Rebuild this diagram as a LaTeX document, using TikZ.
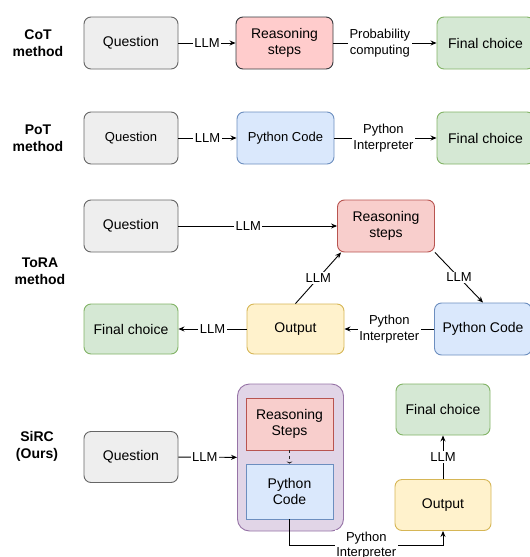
\documentclass[tikz,border=0pt]{standalone}
\usepackage{fontspec}
\setmainfont{Liberation Sans}
\usetikzlibrary{arrows.meta}
\definecolor{qfill}{HTML}{EEEEEE}
\definecolor{qline}{HTML}{666666}
\definecolor{rfill}{HTML}{F8CECC}
\definecolor{rline}{HTML}{B85450}
\definecolor{pinkfill}{HTML}{FFCCCC}
\definecolor{pinkline}{HTML}{36393D}
\definecolor{bfill}{HTML}{DAE8FC}
\definecolor{bline}{HTML}{6C8EBF}
\definecolor{gfill}{HTML}{D5E8D4}
\definecolor{gline}{HTML}{82B366}
\definecolor{yfill}{HTML}{FFF2CC}
\definecolor{yline}{HTML}{D6B656}
\definecolor{pfill}{HTML}{E1D5E7}
\definecolor{pline}{HTML}{9673A6}

\begin{document}
\begin{tikzpicture}[x=1pt,y=-1pt,line width=0.9pt,
    box/.style={draw,rounded corners=7pt,inner sep=0pt,align=center,
      minimum width=94,minimum height=52,font=\fontsize{14}{16.5}\selectfont},
    qbox/.style={box,fill=qfill,draw=qline},
    qsmall/.style={qbox,font=\fontsize{13}{15}\selectfont},
    rbox/.style={box,fill=rfill,draw=rline,minimum width=97},
    cotbox/.style={box,fill=pinkfill,draw=pinkline,minimum width=97},
    bbox/.style={box,fill=bfill,draw=bline,minimum width=97},
    gbox/.style={box,fill=gfill,draw=gline},
    ybox/.style={box,fill=yfill,draw=yline,minimum width=97},
    method/.style={align=center,font=\fontsize{14}{17}\selectfont\bfseries},
    lbl/.style={fill=white,inner sep=1.5pt,align=center,
      font=\fontsize{13}{15.5}\selectfont},
    arr/.style={-{Stealth[length=6pt,width=5pt]}}]
  \useasboundingbox (0,0) rectangle (530,557);

  \node[method] (cot) at (38,43)  {CoT\\method};
  \node[method] (pot) at (38,138) {PoT\\method};
  \node[method] (tora) at (40,271) {ToRA\\method};
  \node[method] (sirc) at (37,446) {SiRC\\(Ours)};

  \node[qbox] (cotq) at (131,43) {Question};
  \node[cotbox] (cotr) at (284.5,43) {Reasoning\\steps};
  \node[gbox,minimum width=97] (cotf) at (485.5,43) {Final choice};
  \draw[arr] (cotq) -- node[lbl] {LLM} (cotr);
  \draw[arr] (cotr) -- node[lbl,pos=0.45] {Probability\\computing} (cotf);

  \node[qsmall] (potq) at (131,138) {Question};
  \node[bbox,font=\fontsize{13}{15}\selectfont] (potc) at (285.5,138) {Python Code};
  \node[gbox,minimum width=97] (potf) at (485.5,138) {Final choice};
  \draw[arr] (potq) -- node[lbl] {LLM} (potc);
  \draw[arr] (potc) -- node[lbl,pos=0.48] {Python\\Interpreter} (potf);

  \node[qbox] (toraq) at (131,226) {Question};
  \node[rbox] (torar) at (386,226) {Reasoning\\steps};
  \node[bbox] (torap) at (483,329) {Python Code};
  \node[ybox,minimum height=50] (torao) at (295.5,329) {Output};
  \node[gbox,minimum height=50] (toraf) at (131,329) {Final choice};
  \draw[arr] (toraq) -- node[lbl,pos=0.44] {LLM} (torar);
  \draw[arr] (torar.south east) -- node[lbl] {LLM} (torap.north);
  \draw[arr] (torap) -- node[lbl] {Python\\Interpreter} (torao);
  \draw[arr] (torao.north) -- node[lbl] {LLM} ([xshift=4]torar.south west);
  \draw[arr] (torao) -- node[lbl] {LLM} (toraf);

  \node[box,fill=pfill,draw=pline,rounded corners=12pt,minimum width=106,
    minimum height=147] (sircbox) at (290.5,457.5) {};
  \node[box,rounded corners=0pt,fill=rfill,draw=rline,minimum width=87]
    (sircr) at (289.5,424) {Reasoning\\Steps};
  \node[box,rounded corners=0pt,fill=bfill,draw=bline,minimum width=87,
    minimum height=55] (sircc) at (289.5,491.5) {Python\\Code};
  \node[qbox,minimum height=51] (sircq) at (131,457) {Question};
  \node[gbox,minimum height=51] (sircf) at (443,409.5) {Final choice};
  \node[ybox,minimum width=96,minimum height=51] (sirco) at (443,505) {Output};
  \draw[arr] (sircq) -- node[lbl,pos=0.45] {LLM} (sircbox);
  \draw[line width=1.2pt,dash pattern=on 3pt off 3pt,draw=black!85,
    -{Stealth[length=2pt,width=6pt]}] (sircr) -- (sircc);
  \draw[arr] (sirco) -- node[lbl] {LLM} (sircf);
  \draw[arr] (sircc.south) -- ++(0,26) -| node[lbl,pos=0.25] {Python\\Interpreter}
    (sirco.south);
\end{tikzpicture}
\end{document}
